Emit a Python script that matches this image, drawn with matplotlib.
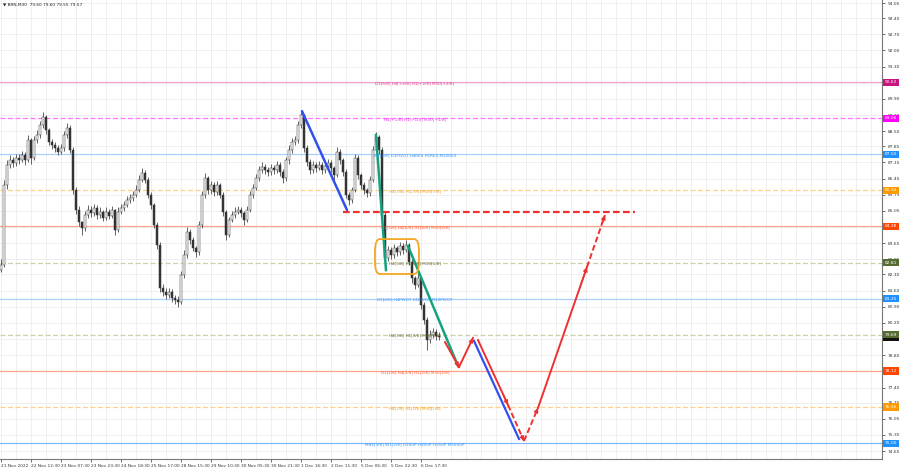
import matplotlib
matplotlib.use("Agg")
import matplotlib.pyplot as plt
from matplotlib.patches import FancyBboxPatch

# ---------------- data ----------------
closes = [82.71, 86.17, 87.04, 87.25, 87.12, 87.34, 87.25, 87.47, 87.25, 88.12,
          87.34, 88.12, 88.34, 88.77, 89.12, 88.55, 88.03, 87.90, 87.77, 87.60,
          87.77, 88.34, 88.64, 87.69, 85.95, 85.09, 84.57, 84.31, 84.87, 85.09,
          84.96, 85.18, 84.87, 85.00, 84.74, 85.00, 84.83, 85.09, 84.22, 85.00,
          85.18, 85.31, 85.52, 85.61, 85.74, 85.95, 86.39, 86.69, 86.39, 85.74,
          85.31, 84.44, 83.57, 81.71, 81.54, 81.41, 81.54, 81.28, 81.19, 81.11,
          82.28, 83.14, 84.14, 83.79, 83.44, 83.27, 84.44, 85.74, 86.47, 85.95,
          86.17, 85.87, 86.17, 85.74, 85.00, 84.01, 84.66, 84.87, 85.00, 85.09,
          84.96, 84.66, 85.09, 85.74, 86.04, 86.47, 86.82, 86.95, 86.82, 86.73,
          86.91, 86.82, 87.04, 86.73, 86.47, 87.25, 87.69, 88.03, 88.12, 88.77,
          89.20, 87.77, 87.17, 86.82, 87.04, 86.91, 87.04, 86.82, 86.99, 87.12,
          86.91, 86.60, 87.60, 87.25, 86.73, 85.74, 85.52, 85.95, 87.34, 86.60,
          86.17, 85.95, 85.82, 86.39, 87.69, 88.25, 87.69, 84.87, 83.01, 83.36,
          83.14, 83.44, 83.27, 83.53, 83.36, 83.57, 82.84, 82.15, 81.84, 82.15,
          80.98, 80.33, 79.46, 79.68, 79.81, 79.64, 79.57]
opens = [82.50] + closes[:-1]
highs = [82.95, 86.40, 87.25, 87.45, 87.40, 87.50, 87.50, 87.65, 87.60, 88.35,
         88.20, 88.30, 88.55, 88.95, 89.35, 89.20, 88.65, 88.15, 88.05, 87.90,
         87.95, 88.50, 88.85, 88.75, 87.80, 86.10, 85.25, 84.60, 85.05, 85.30,
         85.25, 85.35, 85.30, 85.20, 85.10, 85.20, 85.15, 85.25, 85.15, 85.20,
         85.35, 85.50, 85.70, 85.80, 85.90, 86.15, 86.60, 86.90, 86.80, 86.50,
         85.85, 85.40, 84.55, 83.70, 81.90, 81.70, 81.70, 81.65, 81.40, 81.35,
         82.45, 83.35, 84.35, 84.25, 83.90, 83.55, 84.60, 85.90, 86.70, 86.55,
         86.35, 86.30, 86.35, 86.25, 85.85, 85.10, 84.80, 85.05, 85.20, 85.25,
         85.20, 85.05, 85.25, 85.90, 86.20, 86.65, 87.00, 87.15, 87.10, 86.95,
         87.10, 87.05, 87.20, 87.15, 86.85, 87.40, 87.90, 88.20, 88.30, 88.95,
         89.40, 89.25, 87.90, 87.30, 87.20, 87.15, 87.20, 87.15, 87.15, 87.30,
         87.25, 87.00, 87.80, 87.75, 87.35, 86.85, 85.85, 86.10, 87.50, 87.45,
         86.70, 86.30, 86.05, 86.55, 87.85, 88.45, 88.35, 87.80, 85.00, 83.55,
         83.50, 83.60, 83.55, 83.70, 83.65, 83.80, 83.65, 82.95, 82.25, 82.40,
         82.25, 81.10, 80.45, 79.90, 80.00, 79.95, 79.80]
lows = [82.40, 82.60, 86.00, 86.90, 86.95, 87.00, 87.10, 87.15, 87.05, 87.15,
        87.10, 87.25, 88.00, 88.20, 88.65, 88.40, 87.90, 87.75, 87.60, 87.45,
        87.50, 87.65, 88.20, 87.55, 85.80, 84.90, 84.40, 84.00, 84.20, 84.75,
        84.80, 84.85, 84.70, 84.75, 84.60, 84.65, 84.70, 84.75, 84.00, 84.15,
        84.90, 85.05, 85.20, 85.40, 85.50, 85.65, 85.85, 86.30, 86.25, 85.60,
        85.15, 84.30, 83.40, 81.55, 81.35, 81.25, 81.30, 81.10, 81.00, 80.90,
        81.00, 82.15, 83.00, 83.60, 83.30, 83.05, 83.15, 84.30, 85.60, 85.80,
        85.80, 85.70, 85.75, 85.60, 84.85, 83.80, 83.90, 84.55, 84.75, 84.90,
        84.80, 84.45, 84.55, 85.00, 85.60, 85.95, 86.35, 86.70, 86.65, 86.55,
        86.60, 86.65, 86.70, 86.55, 86.25, 86.35, 87.10, 87.55, 87.90, 88.00,
        88.65, 87.60, 87.00, 86.65, 86.70, 86.75, 86.80, 86.65, 86.70, 86.90,
        86.75, 86.40, 86.50, 87.10, 86.55, 85.60, 85.30, 85.40, 85.85, 86.45,
        86.00, 85.80, 85.65, 85.70, 86.30, 87.55, 87.50, 84.70, 82.80, 82.90,
        82.95, 83.00, 83.10, 83.15, 83.20, 83.25, 82.70, 81.95, 81.65, 81.75,
        80.80, 80.15, 79.05, 79.35, 79.55, 79.45, 79.45]

time_labels = ["21 Nov 2022", "22 Nov 12:30", "23 Nov 07:30", "23 Nov 23:30",
               "24 Nov 18:30", "25 Nov 17:00", "28 Nov 15:30", "29 Nov 10:30",
               "30 Nov 05:30", "30 Nov 21:30", "1 Dec 16:30", "2 Dec 11:30",
               "5 Dec 06:30", "5 Dec 22:30", "6 Dec 17:30"]
time_label_bars = [0, 10, 20, 30, 40, 50, 60, 70, 80, 90, 100, 110, 120, 130, 140]

# visible scale labels
price_ticks = [94.05, 93.40, 92.70, 92.00, 91.30, 89.90, 89.20, 88.50,
               87.85, 87.15, 86.45, 85.75, 85.05, 83.65, 82.95, 82.30,
               81.60, 80.90, 80.20, 78.80, 77.40, 76.75, 76.05,
               75.35, 74.65]
# scale steps hidden under level boxes (grid only)
hidden_ticks = [90.60, 84.35, 79.50, 78.10]

level_prices = [90.62, 89.06, 87.50, 85.94, 84.38, 82.81, 81.25, 79.69, 78.12, 76.56, 75.00]
level_texts = ["D1[5/8] H4[+2/8] H1[+2/8] M30[+2/8]",
               "H4[+1/8] H1[+1/8] M30[+1/8]",
               "W1[3/8] D1PIVOT H4RES H1RES M30RES",
               "H4[7/8] H1[7/8] M30[7/8]",
               "D1[3/8] H4[6/8] H1[6/8] M30[6/8]",
               "H4[5/8] H1[5/8] M30[5/8]",
               "D1[2/8] H4PIVOT H1PIVOT M30PIVOT",
               "H4[3/8] H1[3/8] M30[3/8]",
               "D1[1/8] H4[2/8] H1[2/8] M30[2/8]",
               "H4[1/8] H1[1/8] M30[1/8]",
               "MN1[3/8] W1[2/8] D1SUP H4SUP H1SUP M30SUP"]
level_line_colors = ["#f4a6d2", "#ff77ff", "#a8d0ff", "#ffd08a", "#ffa488", "#cfcfa8",
                     "#a8d0ff", "#cfcfa8", "#ffa488", "#ffd08a", "#7fb8ff"]
level_text_colors = ["#e0409a", "#e830e8", "#3a96f0", "#f09a20", "#ff5a35", "#6b6b3a",
                     "#3a96f0", "#6b6b3a", "#ff5a35", "#f09a20", "#3a96f0"]
level_box_colors = ["#c8157e", "#ff00ff", "#1e90ff", "#ff9900", "#ff4500", "#556b2f",
                    "#1e90ff", "#556b2f", "#ff4500", "#ff9900", "#1e90ff"]
level_dashed = [False, True, False, True, False, True, False, True, False, True, False]

current_price = 79.57

# drawn analysis objects (bar index, price)
blue_trend = [(100.33, 89.37), (115.33, 85.09)]
red_dash_level = [(114.0, 85.02), (211.3, 85.02)]
green_1 = [(125.0, 88.34), (128.33, 82.49)]
green_2 = [(135.67, 83.53), (152.33, 78.34)]
box_rect = [(124.67, 82.32), (139.33, 83.83)]
red_segments = [((148.0, 79.37), (152.67, 78.29), "-"),
                ((152.67, 78.29), (157.33, 79.55), "-"),
                ((159.0, 79.46), (169.0, 76.65), "-"),
                ((169.0, 76.65), (174.33, 75.09), "--"),
                ((174.33, 75.09), (179.0, 76.52), "--"),
                ((179.0, 76.52), (195.33, 82.62), "-"),
                ((195.33, 82.62), (201.33, 84.87), "--")]
blue_projection = [(157.67, 79.42), (172.67, 75.18)]

# ---------------- figure ----------------
fig = plt.figure(figsize=(9, 4.68), dpi=100)
fig.patch.set_facecolor("white")
ax = fig.add_axes([0.0, 9 / 468, 882 / 900, 459 / 468])
ax.set_xlim(-0.33, 293.67)
ax.set_ylim(74.31, 94.18)

# grid
for xb in range(0, 295, 5):
    ax.axvline(xb, color="#ececec", lw=0.6, zorder=0)
for pt in price_ticks + hidden_ticks:
    ax.axhline(pt, color="#ececec", lw=0.6, zorder=0)

# levels
for p, c, dsh in zip(level_prices, level_line_colors, level_dashed):
    ax.axhline(p, color=c, lw=0.9, ls=(0, (4, 2)) if dsh else "-", zorder=1)

# candles
for i, (o, h, l, c) in enumerate(zip(opens, highs, lows, closes)):
    ax.vlines(i, l, h, color="#4a4a4a", lw=0.6, zorder=3)
    if c >= o:
        ax.bar(i, c - o, bottom=o, width=0.55, facecolor="white", edgecolor="#333333",
               lw=0.35, zorder=4)
    else:
        ax.bar(i, o - c, bottom=c, width=0.55, facecolor="#333333", edgecolor="#333333",
               lw=0.35, zorder=4)

# level texts (drawn over the price)
for p, t, c in zip(level_prices, level_texts, level_text_colors):
    ax.text(138, p - 0.04, t, color=c, fontsize=3.0, ha="center", va="center", zorder=8)

# analysis objects
ax.plot(*zip(*blue_trend), color="#3050f0", lw=1.8, zorder=5, solid_capstyle="round")
ax.plot(*zip(*red_dash_level), color="#f03030", lw=1.6, ls=(0, (3, 1.5)), zorder=5)
ax.plot(*zip(*green_1), color="#15a37f", lw=1.8, zorder=6)
ax.plot(*zip(*green_2), color="#15a37f", lw=1.8, zorder=6)
(x0, y0), (x1, y1) = box_rect
ax.add_patch(FancyBboxPatch((x0, y0), x1 - x0, y1 - y0,
                            boxstyle="round,pad=0,rounding_size=1.6",
                            mutation_aspect=0.33, fill=False, edgecolor="#f5a623",
                            lw=1.3, zorder=6))
ax.plot(*zip(*blue_projection), color="#3050f0", lw=1.6, zorder=5)
for (sx, sy), (ex, ey), style in red_segments:
    ax.plot([sx, ex], [sy, ey], color="#f03030", lw=1.4,
            ls=(0, (3, 1.5)) if style == "--" else "-", zorder=6)
    ax.annotate("", xy=(ex, ey), xytext=(ex - (ex - sx) * 0.15, ey - (ey - sy) * 0.15),
                arrowprops=dict(arrowstyle="-|>", color="#f03030", lw=1.0,
                                mutation_scale=6, shrinkA=0, shrinkB=0), zorder=7)

# axes styling
for s in ["top", "left"]:
    ax.spines[s].set_visible(False)
ax.spines["right"].set_color("#777777")
ax.spines["bottom"].set_color("#777777")
ax.spines["right"].set_linewidth(0.8)
ax.spines["bottom"].set_linewidth(0.8)
ax.yaxis.tick_right()
ax.set_yticks(price_ticks)
ax.set_yticklabels([f"{v:.2f}" for v in price_ticks])
ax.tick_params(axis="y", length=2, width=0.5, labelsize=3.2, colors="#333333", pad=2)
ax.set_xticks(time_label_bars)
ax.set_xticklabels(time_labels)
ax.tick_params(axis="x", length=2, width=0.5, labelsize=3.1, colors="#333333", pad=1.5)
for lab in ax.get_xticklabels():
    lab.set_ha("left")

# price boxes on the right
ax.text(1.003, current_price, f"{current_price:.2f}", transform=ax.get_yaxis_transform(),
        color="white", fontsize=3.2, va="center", ha="left", zorder=10, clip_on=False,
        bbox=dict(boxstyle="square,pad=0.35", facecolor="#111111", edgecolor="none"))
for p, bc in zip(level_prices, level_box_colors):
    ax.text(1.003, p, f"{p:.2f}", transform=ax.get_yaxis_transform(), color="white",
            fontsize=3.2, va="center", ha="left", zorder=11, clip_on=False,
            bbox=dict(boxstyle="square,pad=0.35", facecolor=bc, edgecolor="none"))

# header
ax.text(0.003, 0.994, "\u25BC BRN,M30  79.60 79.60 79.55 79.57", transform=ax.transAxes,
        fontsize=3.1, color="#222222", ha="left", va="top", zorder=10)

fig.savefig("out.png", dpi=100, facecolor="white")
